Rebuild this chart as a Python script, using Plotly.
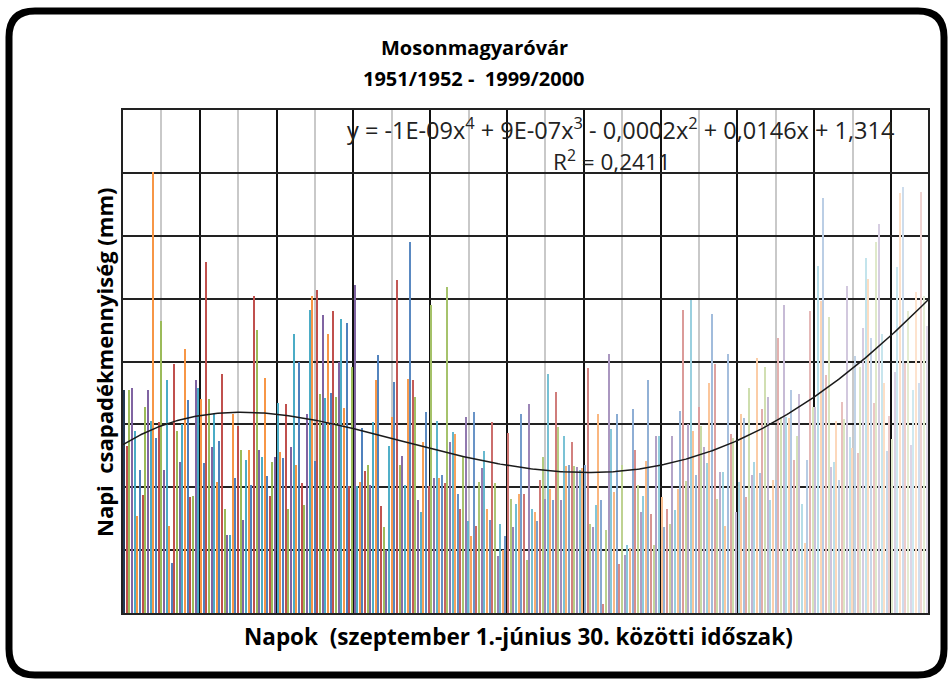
import numpy as np
import plotly.graph_objects as go

# Mean daily precipitation (mm), Mosonmagyaróvár, 1951/52 - 1999/2000, one value per day
szeptember = [1.77, 1.33, 1.77, 1.79, 1.45, 0.77, 1.14, 0.94, 1.64, 1.77,
              1.53, 3.51, 1.39, 1.52, 2.32, 1.14, 1.85, 0.69, 0.40, 1.98,
              1.45, 1.20, 1.50, 2.10, 1.69, 0.92, 0.93, 1.85, 1.79, 1.70]
oktober = [1.19, 2.79, 1.70, 1.32, 1.58, 1.04, 1.37, 1.90, 0.83, 0.62,
           0.62, 1.58, 1.07, 1.49, 1.30, 0.74, 1.22, 1.30, 1.02, 2.52,
           2.25, 1.30, 1.24, 1.87, 1.09, 0.93, 1.20, 1.24, 1.67, 1.28,
           1.23]
november = [1.66, 0.83, 1.32, 2.22, 1.18, 2.00, 1.03, 0.86, 1.58, 2.41,
            2.52, 1.21, 2.57, 1.74, 2.37, 1.71, 2.22, 1.75, 2.40, 1.72,
            2.00, 2.34, 1.63, 2.31, 1.01, 1.96, 2.61, 1.01, 1.04, 1.47]
december = [1.13, 1.18, 1.02, 1.52, 1.85, 2.05, 0.85, 0.68, 0.50, 1.33,
            1.56, 1.84, 2.65, 1.18, 1.25, 1.02, 1.86, 2.95, 1.85, 1.72,
            0.90, 0.80, 1.36, 1.60, 1.01, 2.45, 1.07, 1.53, 1.07, 1.10,
            1.03]
januar = [2.59, 1.36, 1.44, 1.42, 0.95, 0.83, 1.25, 1.56, 0.73, 0.61,
          1.60, 0.69, 1.04, 1.15, 1.29, 0.83, 0.74, 1.52, 1.03, 0.45,
          0.71, 0.50, 0.61, 1.43, 0.91, 0.68, 0.87, 0.95, 1.58, 0.95,
          0.42]
februar = [1.66, 0.83, 0.80, 0.73, 1.06, 1.24, 0.91, 1.90, 0.99, 0.90,
           1.76, 1.48, 0.90, 1.41, 1.17, 1.18, 1.36, 1.17, 1.16, 1.14,
           1.15, 1.18, 1.95, 0.71, 0.68, 0.86, 1.58, 0.90, 0.07]
marcius = [0.66, 2.06, 1.46, 0.96, 1.58, 0.39, 1.18, 0.46, 0.54, 0.52,
           1.62, 1.30, 1.02, 0.80, 0.93, 1.21, 1.85, 0.79, 0.54, 1.41,
           1.41, 0.92, 0.68, 0.83, 0.71, 1.41, 0.82, 0.99, 1.61, 2.41,
           1.05]
aprilis = [1.50, 2.49, 1.45, 1.10, 1.64, 1.49, 1.32, 1.19, 1.83, 2.38,
           1.98, 0.91, 1.12, 1.12, 0.69, 2.06, 1.42, 1.39, 0.80, 1.04,
           1.58, 1.55, 0.92, 1.79, 1.10, 1.20, 2.03, 1.11, 1.62, 1.96]
majus = [1.72, 0.90, 1.06, 1.06, 2.19, 1.56, 2.45, 1.56, 1.55, 1.77,
         1.22, 1.41, 1.74, 0.87, 0.56, 1.22, 2.40, 1.64, 1.64, 2.76,
         2.48, 3.30, 1.89, 2.35, 1.16, 1.20, 1.53, 1.06, 1.68, 1.54,
         2.60]
junius = [1.40, 1.31, 2.04, 1.27, 1.96, 2.27, 2.82, 2.66, 2.19, 1.67,
          2.95, 3.09, 2.22, 1.83, 1.29, 1.57, 1.38, 1.92, 2.75, 3.34,
          3.39, 1.99, 2.40, 1.34, 1.77, 2.55, 1.83, 3.35, 2.52, 2.28]

title_lines = ["Mosonmagyaróvár", "1951/1952 -  1999/2000"]
y_title = "Napi  csapadékmennyiség (mm)"
x_title = "Napok  (szeptember 1.-június 30. közötti időszak)"
trend_equation = "y = -1E-09x<sup>4</sup> + 9E-07x<sup>3</sup> - 0,0002x<sup>2</sup> + 0,0146x + 1,314"
trend_r2 = "R<sup>2</sup> = 0,2411"

months = [szeptember, oktober, november, december, januar,
          februar, marcius, aprilis, majus, junius]
values = np.concatenate([np.array(m, dtype=float) for m in months])
days = np.arange(1, len(values) + 1)

# Office palette, cycled per bar; shades run from dark at the start to pale at the end
palette = ["#4F81BD", "#C0504D", "#9BBB59", "#8064A2", "#4BACC6", "#F79646"]


def shade(hex_color, f):
    r, g, b = (int(hex_color[k:k + 2], 16) for k in (1, 3, 5))
    if f < 0:
        r, g, b = (c * (1 + f) for c in (r, g, b))
    else:
        r, g, b = (c + (255 - c) * f for c in (r, g, b))
    return "rgb(%d,%d,%d)" % (round(r), round(g), round(b))


n = len(values)
bar_colors = []
for i in range(n):
    if i == 0:
        f = -0.55
    else:
        f = max(0.0, (i - 90) / (n - 91) * 0.75)
    bar_colors.append(shade(palette[i % 6], f))

# 4th-order polynomial trend fitted to the daily values
coef = np.polyfit(days, values, 4)
xt = np.linspace(0.5, n + 0.5, 400)
yt = np.polyval(coef, xt)

W, H = 948, 680
L, R, T, B = 123, 928, 110, 613


def px(x):
    return (x - L) / (R - L)


def py(y):
    return (B - y) / (B - T)


fig = go.Figure()
fig.add_trace(go.Bar(x=days, y=values, width=0.5, marker=dict(color=bar_colors, line=dict(width=0)),
                     showlegend=False, hoverinfo="x+y"))
fig.add_trace(go.Scatter(x=xt, y=yt, mode="lines", line=dict(color="#1a1a1a", width=1.5),
                         showlegend=False, hoverinfo="skip"))

# rounded outer frame
fl, fr, ft, fb, rad = 9, 944, 11, 675, 26
pts = [("M", fl + rad, ft), ("L", fr - rad, ft), ("Q", fr, ft, fr, ft + rad),
       ("L", fr, fb - rad), ("Q", fr, fb, fr - rad, fb), ("L", fl + rad, fb),
       ("Q", fl, fb, fl, fb - rad), ("L", fl, ft + rad), ("Q", fl, ft, fl + rad, ft)]
path = ""
for p in pts:
    cmd, coords = p[0], p[1:]
    segs = []
    for k in range(0, len(coords), 2):
        segs.append("%.5f,%.5f" % (px(coords[k]), py(coords[k + 1])))
    path += cmd + " " + " ".join(segs) + " "
path += "Z"

font_family = "'Open Sans', Lato, sans-serif"


def nbsp(s):
    return s.replace(" ", "\u00a0")


fig.update_layout(
    width=W, height=H,
    margin=dict(l=L, r=W - R, t=T, b=H - B, pad=0),
    paper_bgcolor="white", plot_bgcolor="white",
    bargap=0,
    font=dict(family=font_family, color="black"),
    shapes=[dict(type="path", xref="paper", yref="paper", path=path,
                 line=dict(color="black", width=7), fillcolor="rgba(0,0,0,0)", layer="below")],
    annotations=[
        dict(x=px(474), y=py(48), xref="paper", yref="paper", text="<b>%s</b>" % title_lines[0],
             showarrow=False, font=dict(size=20), xanchor="center", yanchor="middle"),
        dict(x=px(474), y=py(78), xref="paper", yref="paper",
             text="<b>%s</b>" % nbsp(title_lines[1]),
             showarrow=False, font=dict(size=20), xanchor="center", yanchor="middle"),
        dict(x=px(518), y=py(636), xref="paper", yref="paper",
             text="<b>%s</b>" % nbsp(x_title),
             showarrow=False, font=dict(size=22.5), xanchor="center", yanchor="middle"),
        dict(x=px(104), y=py(362), xref="paper", yref="paper",
             text="<b>%s</b>" % nbsp(y_title), textangle=-90,
             showarrow=False, font=dict(size=22), xanchor="center", yanchor="middle"),
        dict(x=px(620), y=py(128), xref="paper", yref="paper", text=trend_equation,
             showarrow=False, font=dict(size=23.5, color="#222"), xanchor="center", yanchor="middle"),
        dict(x=px(612), y=py(160), xref="paper", yref="paper", text=trend_r2,
             showarrow=False, font=dict(size=22.5, color="#222"), xanchor="center", yanchor="middle"),
    ],
)

fig.update_xaxes(range=[0.5, n + 0.5], showticklabels=False, ticks="",
                 tick0=0.5, dtick=29, showgrid=True, gridcolor="#111", gridwidth=1.5,
                 minor=dict(tick0=0.5, dtick=14.5, showgrid=True, gridcolor="#c9c9c9", gridwidth=2),
                 showline=True, linecolor="#222", linewidth=2, mirror=True, zeroline=False)
fig.update_yaxes(range=[0, 4], showticklabels=False, ticks="",
                 tick0=0, dtick=0.5, showgrid=True, gridcolor="#222", gridwidth=1.5,
                 showline=True, linecolor="#222", linewidth=2, mirror=True, zeroline=False)

fig.write_html("out.html")
